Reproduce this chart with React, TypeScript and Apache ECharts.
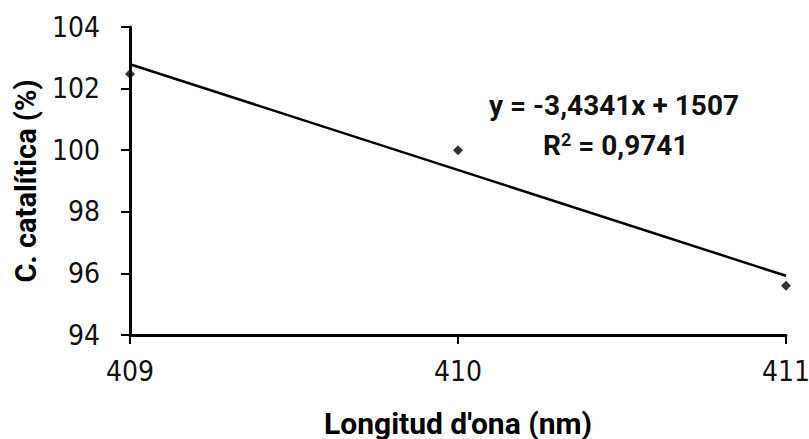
import React, { useEffect, useRef } from "react";
import * as echarts from "echarts";

const xValues = [409, 410, 411];
const yValues = [102.47, 100.0, 95.6];
const xTicks = [409, 410, 411];
const yTicks = [94, 96, 98, 100, 102, 104];
const equationLine1 = "y = -3,4341x + 1507";
const xTitle = "Longitud d'ona (nm)";
const yTitle = "C. catalítica (%)";

function regression(xs: number[], ys: number[]) {
  const n = xs.length;
  const mx = xs.reduce((a, b) => a + b, 0) / n;
  const my = ys.reduce((a, b) => a + b, 0) / n;
  let sxy = 0, sxx = 0;
  for (let i = 0; i < n; i++) {
    sxy += (xs[i] - mx) * (ys[i] - my);
    sxx += (xs[i] - mx) ** 2;
  }
  const slope = sxy / sxx;
  return { slope, intercept: my - slope * mx };
}

export default function App() {
  const ref = useRef<HTMLDivElement>(null);
  useEffect(() => {
    if (!ref.current) return;
    const chart = echarts.init(ref.current, undefined, { renderer: "svg" });
    const { slope, intercept } = regression(xValues, yValues);
    const x0 = xTicks[0];
    const x1 = xTicks[xTicks.length - 1];
    const trend = [
      [x0, slope * x0 + intercept],
      [x1, slope * x1 + intercept],
    ];
    const tickFont = "'Liberation Sans Narrow', 'DejaVu Sans Condensed', sans-serif";
    const boldFont = "Roboto, 'Liberation Sans', sans-serif";
    chart.setOption({
      animation: false,
      grid: { left: 130, right: 23, top: 27, bottom: 104, containLabel: false, outerBoundsMode: "none" },
      xAxis: {
        type: "value",
        min: x0,
        max: x1,
        interval: 1,
        splitLine: { show: false },
        axisLine: { lineStyle: { color: "#000", width: 3 } },
        axisTick: { show: true, inside: false, length: 9, lineStyle: { color: "#000", width: 2 } },
        axisLabel: { color: "#111", fontSize: 28, fontFamily: tickFont, margin: 22 },
        name: xTitle,
        nameLocation: "middle",
        nameGap: 73,
        nameTextStyle: { color: "#000", fontSize: 30, fontWeight: "bold", fontFamily: boldFont },
      },
      yAxis: {
        type: "value",
        min: yTicks[0],
        max: yTicks[yTicks.length - 1],
        interval: 2,
        splitLine: { show: false },
        axisLine: { show: true, lineStyle: { color: "#000", width: 3 } },
        axisTick: { show: true, inside: false, length: 9, lineStyle: { color: "#000", width: 2 } },
        axisLabel: { color: "#111", fontSize: 28, fontFamily: tickFont, margin: 30 },
        name: yTitle,
        nameLocation: "middle",
        nameRotate: 90,
        nameGap: 90,
        nameTextStyle: { color: "#000", fontSize: 29, fontWeight: "bold", fontFamily: boldFont },
      },
      series: [
        {
          type: "line",
          data: trend,
          symbol: "none",
          lineStyle: { color: "#000", width: 2.5 },
          silent: true,
        },
        {
          type: "scatter",
          data: xValues.map((x, i) => [x, yValues[i]]),
          symbol: "diamond",
          symbolSize: 10,
          itemStyle: { color: "#000" },
        },
      ],
      graphic: [
        {
          type: "text",
          left: 489,
          top: 91,
          style: {
            text: equationLine1,
            font: `bold 28px ${boldFont}`,
            fill: "#111",
          },
        },
        {
          type: "text",
          left: 543,
          top: 130,
          style: {
            text: "R{sup|2} = 0,9741",
            font: `bold 28px ${boldFont}`,
            fill: "#111",
            rich: {
              sup: { fontSize: 18, fontWeight: "bold", fontFamily: boldFont, verticalAlign: "top", padding: [0, 0, 12, 0] },
            },
          },
        },
      ],
    });
    return () => chart.dispose();
  }, []);
  return <div ref={ref} style={{ width: 809, height: 439, position: "absolute", left: 0, top: 0 }} />;
}
